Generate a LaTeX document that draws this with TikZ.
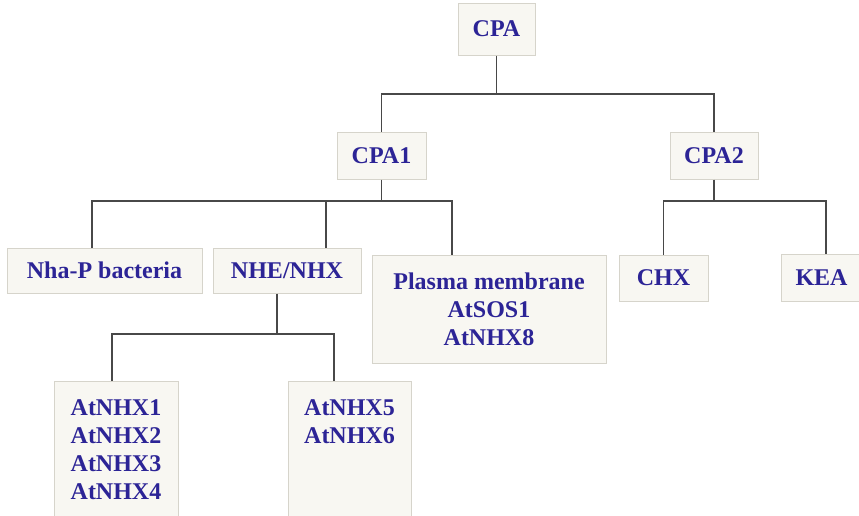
\documentclass[tikz,border=0pt]{standalone}
\usepackage{fontspec}
\setmainfont{Liberation Serif}
\definecolor{boxfill}{RGB}{248,247,242}
\definecolor{boxline}{RGB}{214,212,203}
\definecolor{navytext}{RGB}{44,36,150}
\definecolor{linkgray}{RGB}{72,72,72}
\begin{document}
\begin{tikzpicture}[x=1pt,y=-1pt,
  box/.style={draw=boxline, fill=boxfill, line width=1pt, inner sep=0pt,
    font=\bfseries\fontsize{24}{28}\selectfont, text=navytext, align=center},
  lbl/.style={inner sep=0pt, font=\bfseries\fontsize{24}{28}\selectfont,
    text=navytext, align=center},
  link/.style={draw=linkgray, line width=1.7pt}]
\useasboundingbox (0,0) rectangle (859,515);
\clip (0,0) rectangle (859,515);

% tree levels
\node[box, minimum width=77pt, minimum height=52pt] (cpa) at (496.5,29) {CPA};
\node[box, minimum width=89pt, minimum height=47pt] (cpa1) at (381.5,155.5) {CPA1};
\node[box, minimum width=88pt, minimum height=47pt] (cpa2) at (714,155.5) {CPA2};

\node[box, minimum width=195pt, minimum height=45pt] (nhap) at (104.5,270.5) {Nha-P bacteria};
\node[box, minimum width=148pt, minimum height=45pt] (nhe) at (287,270.5) {NHE/NHX};
\node[box, minimum width=234pt, minimum height=108pt] (plasma) at (489,309)
  {Plasma membrane\\AtSOS1\\AtNHX8};
\node[box, minimum width=89pt, minimum height=46pt] (chx) at (663.5,278) {CHX};
\node[box, minimum width=81pt, minimum height=47pt] (kea) at (821.5,277.5) {KEA};

\node[box, minimum width=124pt, minimum height=150pt, anchor=north] (grpA) at (116,381) {};
\node[lbl, anchor=north] (grpAtxt) at ([yshift=-18pt]grpA.north) {AtNHX1\\AtNHX2\\AtNHX3\\AtNHX4};
\node[box, minimum width=123pt, minimum height=150pt, anchor=north] (grpB) at (349.5,381) {};
\node[lbl, anchor=north] (grpBtxt) at ([yshift=-18pt]grpB.north) {AtNHX5\\AtNHX6};

% bus lines
\coordinate (busA) at (0,94);
\coordinate (busB) at (0,201);
\coordinate (busC) at (0,334);

% attachment points on the boxes
\coordinate (nhapTop) at ([xshift=-12.5pt]nhap.north);
\coordinate (nheTop) at ([xshift=39pt]nhe.north);
\coordinate (pmTop) at ([xshift=-37pt]plasma.north);
\coordinate (keaTop) at ([xshift=4.5pt]kea.north);
\coordinate (nheBot) at ([xshift=-10pt]nhe.south);
\coordinate (grpATop) at ([xshift=-4pt]grpA.north);
\coordinate (grpBTop) at ([xshift=-15.5pt]grpB.north);

% CPA -> CPA1, CPA2
\draw[link] (cpa.south) -- (cpa.south |- busA);
\draw[link] (cpa1.north) |- (cpa2.north |- busA) -- (cpa2.north);

% CPA1 -> Nha-P, NHE/NHX, plasma membrane
\draw[link] (cpa1.south) -- (cpa1.south |- busB);
\draw[link] (nhapTop) |- (pmTop |- busB) -- (pmTop);
\draw[link] (nheTop) -- (nheTop |- busB);

% CPA2 -> CHX, KEA
\draw[link] (cpa2.south) -- (cpa2.south |- busB);
\draw[link] (chx.north) |- (keaTop |- busB) -- (keaTop);

% NHE/NHX -> two groups
\draw[link] (nheBot) -- (nheBot |- busC);
\draw[link] (grpATop) |- (grpBTop |- busC) -- (grpBTop);
\end{tikzpicture}
\end{document}
